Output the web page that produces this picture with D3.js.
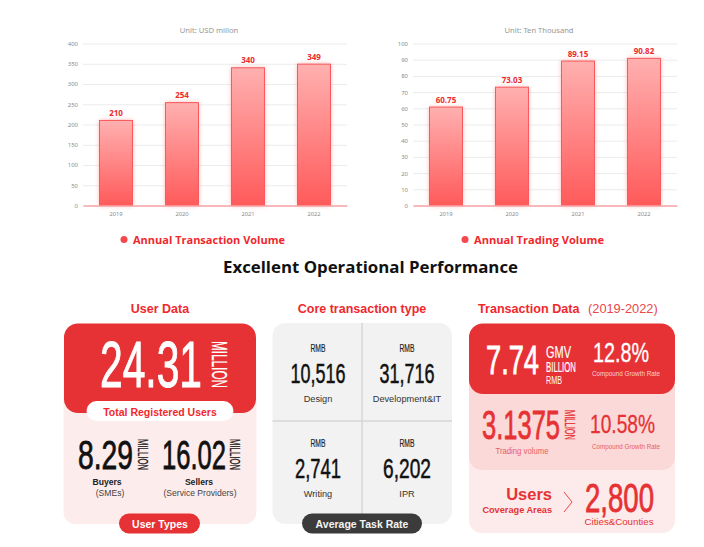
<!DOCTYPE html>
<html>
<head>
<meta charset="utf-8">
<script src="https://cdn.jsdelivr.net/npm/d3@7"></script>
<style>
  html, body { margin: 0; padding: 0; background: #fff; }
  svg { display: block; }
  text { font-family: "Liberation Sans", Arial, sans-serif; }
</style>
</head>
<body>
<div id="chart"></div>
<script>
const years = ["2019", "2020", "2021", "2022"];
const transactionVolume = [210, 254, 340, 349];
const tradingVolume = [60.75, 73.03, 89.15, 90.82];
const transactionTicks = [0, 50, 100, 150, 200, 250, 300, 350, 400];
const tradingTicks = [0, 10, 20, 30, 40, 50, 60, 70, 80, 90, 100];
const transactionLabels = ["210", "254", "340", "349"];
const tradingLabels = ["60.75", "73.03", "89.15", "90.82"];
const taskRates = ["10,516", "31,716", "2,741", "6,202"];
const taskNames = ["Design", "Development&IT", "Writing", "IPR"];

const RED = "#e63234";
const BRIGHT = "#f0282d";
const NOTO = "'Noto Sans', sans-serif";
const OPEN = "'Open Sans', sans-serif";

const svg = d3.select("#chart").append("svg").attr("width", 704).attr("height", 547);
const defs = svg.append("defs");

const grad = defs.append("linearGradient").attr("id", "barGrad")
  .attr("x1", 0).attr("y1", 0).attr("x2", 0).attr("y2", 1);
grad.append("stop").attr("offset", "0%").attr("stop-color", "#ffb0b0");
grad.append("stop").attr("offset", "100%").attr("stop-color", "#ff5a5a");

const glow = defs.append("filter").attr("id", "glow")
  .attr("x", "-30%").attr("y", "-10%").attr("width", "160%").attr("height", "120%");
glow.append("feGaussianBlur").attr("stdDeviation", 2.5);

// text helper, len squeezes the glyphs to fake the condensed numerals
// heavy adds an outline in the text colour, the condensed glyphs come out too thin otherwise
function label(g, x, y, str, size, fill, opts) {
  opts = opts || {};
  const t = g.append("text").attr("x", x).attr("y", y).text(str)
    .attr("font-size", size).attr("fill", fill)
    .attr("text-anchor", opts.anchor || "middle")
    .attr("font-weight", opts.bold ? "bold" : "normal");
  if (opts.font) t.style("font-family", opts.font);
  if (opts.len) t.attr("textLength", opts.len).attr("lengthAdjust", "spacingAndGlyphs");
  if (opts.heavy) t.attr("stroke", fill).attr("stroke-width", opts.heavy);
  return t;
}

// rotated unit text such as MILLION, glyph tops face right
function sideLabel(g, x, y, str, size, fill, len) {
  return g.append("text").text(str)
    .attr("transform", `translate(${x},${y}) rotate(90)`)
    .attr("font-size", size).attr("fill", fill)
    .attr("stroke", fill).attr("stroke-width", 0.25)
    .attr("textLength", len).attr("lengthAdjust", "spacingAndGlyphs");
}

function box(g, x, y, w, h, r, fill) {
  return g.append("rect").attr("x", x).attr("y", y).attr("width", w).attr("height", h)
    .attr("rx", r).attr("fill", fill);
}

function barChart(left, right, values, valueLabels, ticks, maxVal, unit, legend, legendX, legendLen) {
  const g = svg.append("g");
  const x = d3.scaleBand().domain(years).range([left, right]).paddingInner(0.5).paddingOuter(0.25);
  const y = d3.scaleLinear().domain([0, maxVal]).range([205.5, 43.5]);

  const yAxis = d3.axisLeft(y).tickValues(ticks).tickSize(left - right).tickPadding(5);
  const ya = g.append("g").attr("transform", `translate(${left},0)`).call(yAxis);
  ya.select(".domain").remove();
  ya.selectAll("line").attr("stroke", "#ececec").attr("stroke-width", 1);
  ya.selectAll("text").attr("fill", "#8c8c8c").attr("font-size", 6)
    .style("font-family", NOTO);

  const bars = g.selectAll(".bar").data(values).enter();
  bars.append("rect")
    .attr("x", (d, i) => x(years[i]))
    .attr("y", d => y(d))
    .attr("width", x.bandwidth())
    .attr("height", d => y(0) - y(d))
    .attr("fill", "#ff7a7a").attr("opacity", 0.6).attr("filter", "url(#glow)");
  bars.append("rect")
    .attr("x", (d, i) => x(years[i]))
    .attr("y", d => y(d))
    .attr("width", x.bandwidth())
    .attr("height", d => y(0) - y(d))
    .attr("fill", "url(#barGrad)")
    .attr("stroke", "#f8595c").attr("stroke-width", 1);

  bars.append("text")
    .attr("x", (d, i) => x(years[i]) + x.bandwidth() / 2)
    .attr("y", d => y(d) - 4.5)
    .attr("text-anchor", "middle")
    .attr("font-size", 8)
    .attr("font-weight", "bold")
    .attr("fill", "#ee2a30")
    .style("font-family", NOTO)
    .text((d, i) => valueLabels[i]);

  const xAxis = d3.axisBottom(x).tickSize(0).tickPadding(6);
  const xa = g.append("g").attr("transform", "translate(0,205.5)").call(xAxis);
  xa.select(".domain").attr("stroke", "#f9a5a7").attr("stroke-width", 1.5);
  xa.selectAll("text").attr("fill", "#8c8c8c").attr("font-size", 5.8)
    .style("font-family", NOTO);

  label(g, (left + right) / 2 - 6, 33, unit, 7.6, "#969696", { font: NOTO });
  g.append("circle").attr("cx", legendX - 9).attr("cy", 239.5).attr("r", 3.5).attr("fill", "#f4494c");
  label(g, legendX, 244, legend, 11, BRIGHT, { anchor: "start", bold: true, font: OPEN, len: legendLen });
}

barChart(83, 347, transactionVolume, transactionLabels, transactionTicks, 400,
  "Unit: USD millon", "Annual Transaction Volume", 133, 152);
barChart(413, 677, tradingVolume, tradingLabels, tradingTicks, 100,
  "Unit: Ten Thousand", "Annual Trading Volume", 474, 130);

label(svg, 370.5, 273, "Excellent Operational Performance", 16.2, "#111", { bold: true, font: OPEN, len: 295 });

// left panel: user data
const p1 = svg.append("g");
label(p1, 160, 313, "User Data", 12.5, BRIGHT, { bold: true });
box(p1, 63.5, 350, 193, 174, 12, "#fdecec");
box(p1, 64, 323.5, 192, 89.5, 14, RED);
box(p1, 86.5, 401, 147, 20, 10, "#fff");
label(p1, 160, 415.5, "Total Registered Users", 10.5, BRIGHT, { bold: true });
label(p1, 151, 387, "24.31", 65, "#fff", { len: 102, heavy: 1 });
sideLabel(p1, 212, 341, "MILLION", 22, "#fff", 47);
label(p1, 78, 469, "8.29", 40, "#111", { anchor: "start", len: 55, heavy: 0.8 });
sideLabel(p1, 138, 439, "MILLION", 14, "#111", 31);
label(p1, 162, 469, "16.02", 40, "#111", { anchor: "start", len: 64, heavy: 0.8 });
sideLabel(p1, 230, 439, "MILLION", 14, "#111", 31);
label(p1, 107, 485, "Buyers", 8.6, "#222", { bold: true });
label(p1, 110, 496, "(SMEs)", 8.6, "#444");
label(p1, 199, 485, "Sellers", 8.6, "#222", { bold: true });
label(p1, 200, 496, "(Service Providers)", 8.6, "#444", { len: 73 });
box(p1, 119, 513.5, 81, 20, 10, RED);
label(p1, 160, 527.5, "User Types", 10.5, "#fff", { bold: true });

// middle panel: core transaction type
const p2 = svg.append("g");
label(p2, 362, 313, "Core transaction type", 12.5, BRIGHT, { bold: true });
box(p2, 272.5, 323, 179.5, 201, 13, "#f2f2f2");
p2.append("line").attr("x1", 362).attr("x2", 362).attr("y1", 323).attr("y2", 524)
  .attr("stroke", "#d6d6d6").attr("stroke-width", 1.5);
p2.append("line").attr("x1", 272.5).attr("x2", 452).attr("y1", 421).attr("y2", 421)
  .attr("stroke", "#d6d6d6").attr("stroke-width", 1.5);

const taskCx = [318, 407, 318, 407];
const taskTop = [352, 352, 447, 447];
const taskLen = [55, 55, 46, 48];
taskRates.forEach((r, i) => {
  label(p2, taskCx[i], taskTop[i], "RMB", 11, "#222", { len: 15, heavy: 0.2 });
  label(p2, taskCx[i], taskTop[i] + 31, r, 28, "#111", { len: taskLen[i], heavy: 0.5 });
  label(p2, taskCx[i], taskTop[i] + 50, taskNames[i], 9.2, "#333");
});
box(p2, 302, 513.5, 120, 20, 10, "#3b3b3b");
label(p2, 362, 527.5, "Average Task Rate", 10.5, "#f4f4f4", { bold: true });

// right panel: transaction data
const p3 = svg.append("g");
label(p3, 478, 313, "Transaction Data", 12.6, BRIGHT, { anchor: "start", bold: true });
label(p3, 588, 313, "(2019-2022)", 12.8, "#e9474b", { anchor: "start" });
box(p3, 469, 430, 206, 103, 13, "#fdeaea");
box(p3, 469, 370, 206, 100, 13, "#fbd9d8");
box(p3, 469, 323.5, 206, 70.5, 14, RED);

label(p3, 486, 374, "7.74", 40, "#fff", { anchor: "start", len: 53, heavy: 0.8 });
label(p3, 546, 358, "GMV", 17, "#fff", { anchor: "start", len: 25, heavy: 0.2 });
label(p3, 546, 372, "BILLION", 14, "#fff", { anchor: "start", len: 30, heavy: 0.2 });
label(p3, 546, 384, "RMB", 11, "#fff", { anchor: "start", len: 16 });
label(p3, 593, 362, "12.8%", 27, "#fff", { anchor: "start", len: 56, heavy: 0.3 });
label(p3, 592, 376, "Compound Growth Rate", 7.4, "#fbd0d0", { anchor: "start", len: 68 });

label(p3, 482, 439, "3.1375", 40, RED, { anchor: "start", len: 78, heavy: 0.8 });
sideLabel(p3, 565, 410, "MILLION", 14, RED, 30);
label(p3, 590, 432.5, "10.58%", 25, RED, { anchor: "start", len: 65, heavy: 0.3 });
label(p3, 522, 454, "Trading volume", 8.6, "#e8605f", { len: 53 });
label(p3, 592, 449, "Compound Growth Rate", 7.4, "#e8605f", { anchor: "start", len: 68 });

label(p3, 552, 500, "Users", 16.5, RED, { anchor: "end", bold: true });
label(p3, 552, 513, "Coverage Areas", 9.2, RED, { anchor: "end", bold: true });
p3.append("path").attr("d", d3.line()([[564, 492], [572, 502], [564, 512]]))
  .attr("fill", "none").attr("stroke", RED).attr("stroke-width", 0.9);
label(p3, 585, 512, "2,800", 40, RED, { anchor: "start", len: 69, heavy: 0.8 });
label(p3, 619, 524.5, "Cities&Counties", 9.4, RED, { len: 69 });
</script>
</body>
</html>
